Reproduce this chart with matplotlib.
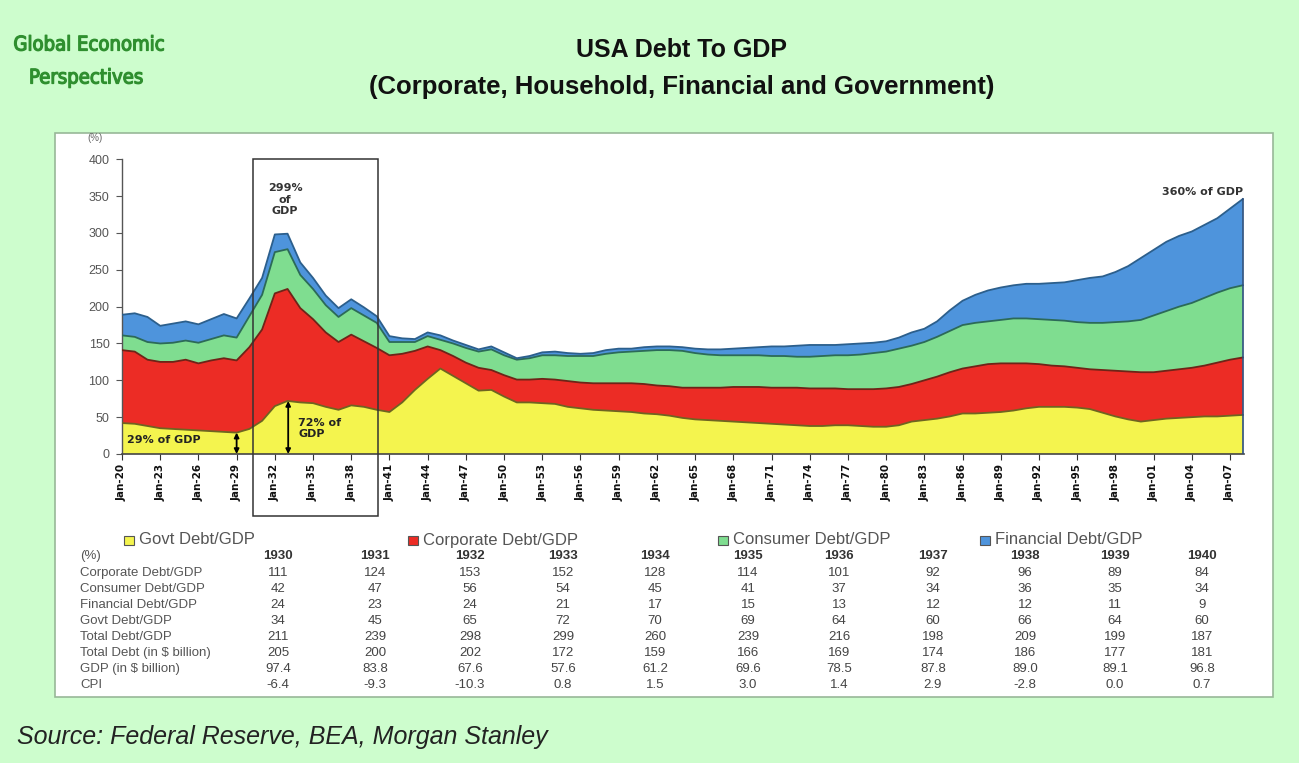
import numpy as np
import matplotlib
matplotlib.use("Agg")
import matplotlib.pyplot as plt
import matplotlib.patheffects as pe
from matplotlib.patches import Rectangle

# ---------------- data ----------------
years = list(range(1920, 2009))
govt = [42, 41, 38, 35, 34, 33, 32, 31, 30, 29,
        34, 45, 65, 72, 70, 69, 64, 60, 66, 64, 60,
        57, 70, 87, 102, 116, 106, 96, 86, 87, 78,
        70, 70, 69, 68, 64, 62, 60, 59, 58, 57,
        55, 54, 52, 49, 47, 46, 45, 44, 43, 42,
        41, 40, 39, 38, 38, 39, 39, 38, 37, 37,
        39, 44, 46, 48, 51, 55, 55, 56, 57, 59,
        62, 64, 64, 64, 63, 61, 56, 51, 47, 44,
        46, 48, 49, 50, 51, 51, 52, 53]
corporate = [99, 98, 90, 90, 91, 95, 91, 96, 100, 98,
             111, 124, 153, 152, 128, 114, 101, 92, 96, 89, 84,
             77, 66, 53, 44, 25, 27, 28, 31, 27, 29,
             31, 31, 33, 33, 35, 35, 36, 37, 38, 39,
             40, 39, 40, 41, 43, 44, 45, 47, 48, 49,
             49, 50, 51, 51, 51, 50, 49, 50, 51, 52,
             52, 51, 54, 57, 60, 61, 64, 66, 66, 64,
             61, 58, 56, 55, 54, 54, 58, 62, 65, 67,
             65, 65, 66, 67, 69, 73, 76, 78]
consumer = [20, 20, 24, 25, 26, 26, 28, 29, 31, 31,
            42, 47, 56, 54, 45, 41, 37, 34, 36, 35, 34,
            18, 16, 12, 14, 14, 17, 20, 22, 28, 27,
            27, 29, 32, 33, 34, 36, 37, 40, 42, 43,
            45, 48, 49, 50, 47, 45, 44, 43, 43, 43,
            43, 43, 42, 43, 44, 45, 46, 47, 49, 50,
            52, 52, 52, 54, 56, 59, 59, 58, 59, 61,
            61, 61, 62, 62, 62, 63, 64, 66, 68, 71,
            77, 81, 85, 88, 92, 95, 97, 98]
financial = [28, 32, 34, 24, 26, 26, 25, 27, 29, 26,
             24, 23, 24, 21, 17, 15, 13, 12, 12, 11, 9,
             8, 5, 4, 5, 6, 4, 4, 3, 4, 4,
             2, 3, 4, 5, 4, 3, 4, 5, 5, 4,
             5, 5, 5, 5, 6, 7, 8, 9, 10, 11,
             13, 13, 15, 16, 15, 14, 15, 15, 14, 14,
             15, 18, 18, 21, 28, 33, 38, 42, 44, 45,
             47, 48, 50, 52, 57, 61, 63, 68, 75, 84,
             89, 94, 96, 97, 99, 101, 108, 117]

series_names = ["Govt Debt/GDP", "Corporate Debt/GDP",
                "Consumer Debt/GDP", "Financial Debt/GDP"]
tick_years = list(range(1920, 2008, 3))
tick_labels = [f"Jan-{y % 100:02d}" for y in tick_years]
yticks = list(range(0, 401, 50))

# table
tbl_years = ["1930", "1931", "1932", "1933", "1934", "1935",
             "1936", "1937", "1938", "1939", "1940"]
tbl_row_labels = ["Corporate Debt/GDP", "Consumer Debt/GDP",
                  "Financial Debt/GDP", "Govt Debt/GDP", "Total Debt/GDP",
                  "Total Debt (in $ billion)", "GDP (in $ billion)", "CPI"]
tbl_corporate = ["111", "124", "153", "152", "128", "114", "101", "92", "96", "89", "84"]
tbl_consumer = ["42", "47", "56", "54", "45", "41", "37", "34", "36", "35", "34"]
tbl_financial = ["24", "23", "24", "21", "17", "15", "13", "12", "12", "11", "9"]
tbl_govt = ["34", "45", "65", "72", "70", "69", "64", "60", "66", "64", "60"]
tbl_total = ["211", "239", "298", "299", "260", "239", "216", "198", "209", "199", "187"]
tbl_total_bn = ["205", "200", "202", "172", "159", "166", "169", "174", "186", "177", "181"]
tbl_gdp = ["97.4", "83.8", "67.6", "57.6", "61.2", "69.6", "78.5", "87.8", "89.0", "89.1", "96.8"]
tbl_cpi = ["-6.4", "-9.3", "-10.3", "0.8", "1.5", "3.0", "1.4", "2.9", "-2.8", "0.0", "0.7"]

# ---------------- style ----------------
W, H = 1299, 763
BG = "#cdfdcd"
fills = ["#f4f44e", "#ec2c25", "#7fdd90", "#4e94dc"]
edges = ["#6f6420", "#6e2418", "#2c6a58", "#2c5f8c"]

plt.rcParams["font.family"] = ["Liberation Sans", "DejaVu Sans"]

def fx(px):
    return px / W

def fy(py):
    return 1 - py / H

fig = plt.figure(figsize=(W / 100, H / 100), dpi=100, facecolor=BG)

# white panel
fig.patches.append(Rectangle((fx(55), fy(697)), fx(1273) - fx(55), fy(133) - fy(697),
                             transform=fig.transFigure, facecolor="white",
                             edgecolor="#98b898", linewidth=1.2, zorder=-10))

ax = fig.add_axes([fx(122), fy(454), fx(1244) - fx(122), fy(159.3) - fy(454)], zorder=2)
ax.patch.set_alpha(0)

x = np.array(years, dtype=float)
data = np.array([govt, corporate, consumer, financial], dtype=float)
ax.stackplot(x, data, colors=fills, linewidth=0, zorder=2)
tops = np.cumsum(data, axis=0)
for top, ec in zip(tops, edges):
    ax.plot(x, top, color=ec, linewidth=1.3, zorder=3)
ax.plot([x[-1], x[-1]], [0, tops[-1][-1]], color="#2c4f7c", linewidth=1.2, zorder=3)

ax.set_xlim(1920, 2008.1)
ax.set_ylim(0, 400)
for s in ["top", "right"]:
    ax.spines[s].set_visible(False)
ax.spines["left"].set_color("#555555")
ax.spines["bottom"].set_color("#444444")
ax.spines["left"].set_linewidth(1.0)
ax.spines["bottom"].set_linewidth(1.2)
ax.set_yticks(yticks)
ax.set_yticklabels([str(v) for v in yticks], fontsize=9, color="#555555")
ax.set_xticks(tick_years)
ax.set_xticklabels(tick_labels, rotation=90, fontsize=7.5, fontweight="bold",
                   color="#111111", family="DejaVu Sans")
ax.tick_params(axis="y", length=4, color="#555555", pad=5)
ax.tick_params(axis="x", length=4, color="#333333", pad=3)

fig.text(fx(95), fy(138), "(%)", fontsize=7, color="#666666", ha="center", va="center")

# annotations
ann = dict(fontweight="bold", family="DejaVu Sans", fontsize=8)
ax.text(1932.8, 345, "299%\nof\nGDP", ha="center", va="center",
        color="#333333", linespacing=1.2, **ann)
ax.text(2008.0, 356, "360% of GDP", ha="right", va="center", color="#333333", **ann)
ax.text(1920.4, 19, "29% of GDP", ha="left", va="center", color="#222222", **ann)
ax.text(1933.85, 35, "72% of\nGDP", ha="left", va="center", color="#222222",
        linespacing=1.1, **ann)
y29 = govt[years.index(1929)]
y33 = govt[years.index(1933)]
for xa, ya in [(1929, y29), (1933.05, y33)]:
    ax.annotate("", xy=(xa, ya), xytext=(xa, 0),
                arrowprops=dict(arrowstyle="<|-|>", color="black", lw=1.3,
                                mutation_scale=7, shrinkA=0, shrinkB=0), zorder=6)

# highlight box 1930-1940
ax.add_patch(Rectangle((1930.3, -84), 9.8, 484, fill=False, edgecolor="#333333",
                       linewidth=1.1, clip_on=False, zorder=7))

# titles
fig.text(fx(682), fy(50), "USA Debt To GDP", ha="center", va="center",
         fontsize=18, fontweight="bold", color="#111111")
fig.text(fx(682), fy(87), "(Corporate, Household, Financial and Government)",
         ha="center", va="center", fontsize=18.5, fontweight="bold", color="#111111")
logo_fx = [pe.withStroke(linewidth=0.9, foreground="#2f8f2f")]
fig.text(fx(89), fy(45), "Global Economic", ha="center", va="center",
         fontsize=14.5, color="#2f8f2f", family="DejaVu Sans",
         fontstretch="condensed", path_effects=logo_fx)
fig.text(fx(86), fy(78), "Perspectives", ha="center", va="center",
         fontsize=14.5, color="#2f8f2f", family="DejaVu Sans",
         fontstretch="condensed", path_effects=logo_fx)
fig.text(fx(17), fy(737), "Source: Federal Reserve, BEA, Morgan Stanley",
         ha="left", va="center", fontsize=18, style="italic", color="#222222")

# legend
leg_x = [124, 408, 718, 980]
for lx, name, fc, ec in zip(leg_x, series_names, fills, edges):
    fig.patches.append(Rectangle((fx(lx), fy(545)), fx(10), 9 / H, transform=fig.transFigure,
                                 facecolor=fc, edgecolor="#555555", linewidth=0.8))
    fig.text(fx(lx + 15), fy(540), name, ha="left", va="center",
             fontsize=12, color="#555555")

# table
col_x = [278, 375, 470, 563, 655, 748, 839, 933, 1025, 1115, 1202]
row_y = [556, 573, 589, 605, 621, 637, 653, 669, 685]
fig.text(fx(80), fy(row_y[0]), "(%)", ha="left", va="center", fontsize=9.5, color="#555555")
for cx, yr in zip(col_x, tbl_years):
    fig.text(fx(cx), fy(row_y[0]), yr, ha="center", va="center", fontsize=9.5,
             color="#333333", fontweight="bold")
rows = [tbl_corporate, tbl_consumer, tbl_financial, tbl_govt, tbl_total,
        tbl_total_bn, tbl_gdp, tbl_cpi]
for ry, label, vals in zip(row_y[1:], tbl_row_labels, rows):
    fig.text(fx(80), fy(ry), label, ha="left", va="center", fontsize=9.5, color="#555555")
    for cx, v in zip(col_x, vals):
        fig.text(fx(cx), fy(ry), v, ha="center", va="center", fontsize=9.5, color="#444444")

fig.savefig("out.png", dpi=100, facecolor=BG)
